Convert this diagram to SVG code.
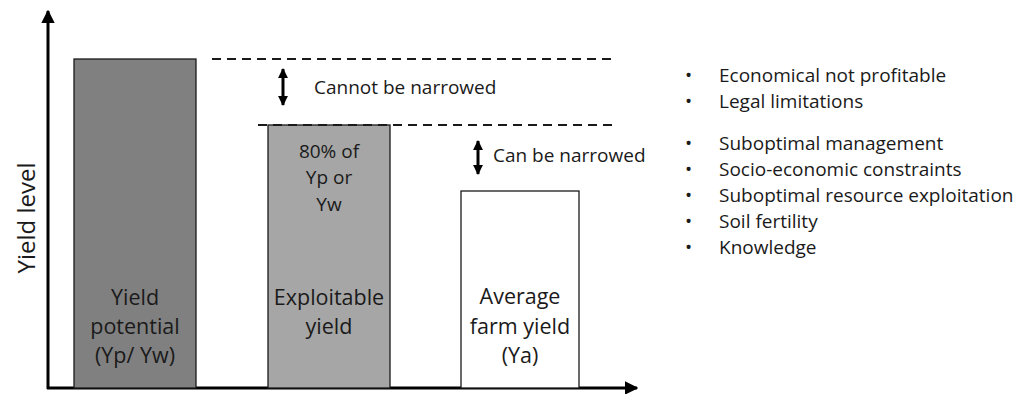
<svg xmlns="http://www.w3.org/2000/svg" width="1019" height="394" viewBox="0 0 1019 394">
  <style>
    text { font-family: "Open Sans", "Liberation Sans", sans-serif; fill: #1a1a1a; }
    .bar { stroke: #1a1a1a; stroke-width: 1.3; }
    .lbl { font-size: 21.5px; text-anchor: middle; }
    .small { font-size: 19px; }
    .note { font-size: 19px; }
    .dash { stroke: #1a1a1a; stroke-width: 2; stroke-dasharray: 9 6; fill: none; }
    .axis { stroke: #000; stroke-width: 3; fill: none; }
    .dbl { stroke: #000; stroke-width: 3; fill: none; }
  </style>
  <defs>
    <marker id="axisHead" viewBox="0 0 10 10" refX="9" refY="5" markerWidth="4.5" markerHeight="4.5" orient="auto" markerUnits="strokeWidth">
      <path d="M0,0 L10,5 L0,10 Z" fill="#000"/>
    </marker>
    <marker id="gapHead" viewBox="0 0 10 10" refX="9" refY="5" markerWidth="3.3" markerHeight="3.8" orient="auto-start-reverse" markerUnits="strokeWidth">
      <path d="M0,0 L10,5 L0,10 Z" fill="#000"/>
    </marker>
  </defs>

  <!-- axes -->
  <g id="axes">
    <line class="axis" x1="48" y1="389" x2="48" y2="11" marker-end="url(#axisHead)"/>
    <line class="axis" x1="47" y1="388" x2="637" y2="388" marker-end="url(#axisHead)"/>
    <text x="0" y="0" font-size="24" text-anchor="middle" transform="translate(35,218) rotate(-90)">Yield level</text>
  </g>

  <!-- bars -->
  <g id="yield-potential">
    <rect class="bar" x="74" y="59" width="122" height="329" fill="#808080"/>
    <text class="lbl" x="135" y="305">Yield</text>
    <text class="lbl" x="135" y="334">potential</text>
    <text class="lbl" x="135" y="363">(Yp/ Yw)</text>
  </g>
  <g id="exploitable-yield">
    <rect class="bar" x="268" y="125" width="122" height="263" fill="#a6a6a6"/>
    <text class="lbl small" x="329" y="158">80% of</text>
    <text class="lbl small" x="329" y="184">Yp or</text>
    <text class="lbl small" x="329" y="211">Yw</text>
    <text class="lbl" x="329" y="305">Exploitable</text>
    <text class="lbl" x="329" y="334">yield</text>
  </g>
  <g id="average-farm-yield">
    <rect class="bar" x="461" y="191" width="118" height="197" fill="#ffffff"/>
    <text class="lbl" x="520" y="304">Average</text>
    <text class="lbl" x="520" y="334">farm yield</text>
    <text class="lbl" x="520" y="363">(Ya)</text>
  </g>

  <!-- gap markers -->
  <g id="connectors">
    <line class="dash" x1="212" y1="59" x2="616" y2="59"/>
    <line class="dash" x1="258" y1="125" x2="616" y2="125"/>
    <line class="dbl" x1="283" y1="69" x2="283" y2="105" marker-start="url(#gapHead)" marker-end="url(#gapHead)"/>
    <line class="dbl" x1="478" y1="141" x2="478" y2="174" marker-start="url(#gapHead)" marker-end="url(#gapHead)"/>
  </g>
  <g id="gap-not-closable">
    <text class="note" x="314" y="94">Cannot be narrowed</text>
  </g>
  <g id="gap-closable">
    <text class="note" x="493" y="162">Can be narrowed</text>
  </g>

  <!-- causes -->
  <g id="causes-fixed" class="note">
    <text x="685" y="82">•</text><text x="719" y="82">Economical not profitable</text>
    <text x="685" y="108">•</text><text x="719" y="108">Legal limitations</text>
  </g>
  <g id="causes-closable" class="note">
    <text x="685" y="150">•</text><text x="719" y="150">Suboptimal management</text>
    <text x="685" y="176">•</text><text x="719" y="176">Socio-economic constraints</text>
    <text x="685" y="202">•</text><text x="719" y="202">Suboptimal resource exploitation</text>
    <text x="685" y="228">•</text><text x="719" y="228">Soil fertility</text>
    <text x="685" y="254">•</text><text x="719" y="254">Knowledge</text>
  </g>
</svg>
